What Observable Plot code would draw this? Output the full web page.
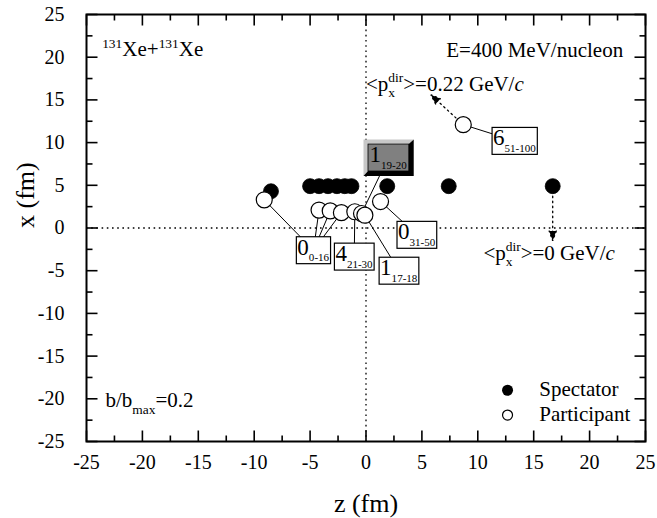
<!DOCTYPE html>
<html>
<head>
<meta charset="utf-8">
<script src="https://cdn.jsdelivr.net/npm/d3@7"></script>
<script src="https://cdn.jsdelivr.net/npm/@observablehq/plot@0.6"></script>
<style>
  html, body { margin: 0; padding: 0; background: #fff; }
  #chart svg { display: block; }
</style>
</head>
<body>
<div id="chart"></div>
<script>
// Spectator nucleons (filled) in the z–x reaction plane
const spectatorZ = [-8.5, -5.0, -4.2, -3.4, -2.6, -1.9, -1.3, 1.9, 7.4, 16.7];
const spectatorX = [4.3, 4.9, 4.9, 4.9, 4.9, 4.9, 4.9, 4.9, 4.9, 4.9];

// Participant fragments (open)
const participantId = ["a", "b", "c", "d", "e", "f", "g", "h", "i"];
const participantZ = [-9.1, -4.2, -3.2, -2.2, -1.0, -0.4, -0.1, 1.3, 8.7];
const participantX = [3.3, 2.1, 2.0, 1.8, 1.9, 1.7, 1.5, 3.1, 12.1];

// Boxed group labels: count with time window (fm/c) as subscript
const labelText = ["0_{0-16}", "4_{21-30}", "1_{17-18}", "0_{31-50}", "1_{19-20}", "6_{51-100}"];
const labelZ = [-4.7, -1.05, 2.95, 4.55, 2.0, 13.3];
const labelX = [-2.6, -3.35, -5.0, -0.8, 8.25, 10.2];
const labelRaised = [false, false, false, false, true, false];
const labelTargets = [["a", "b", "c", "d"], ["e"], ["g"], ["h"], ["f"], ["i"]];

// Directed-momentum arrows
const arrowZ1 = [8.7, 16.7];
const arrowX1 = [12.1, 4.9];
const arrowZ2 = [5.8, 16.7];
const arrowX2 = [15.6, -1.5];

// Annotations
const noteText = ["^{131}Xe+^{131}Xe", "E=400 MeV/nucleon", "<p_{x}^{dir}>=0.22 GeV/~{c}", "<p_{x}^{dir}>=0 GeV/~{c}", "b/b_{max}=0.2"];
const noteZ = [-23.6, 23.0, 0.0, 10.5, -23.3];
const noteX = [20.1, 20.0, 16.1, -3.7, -21.0];
const noteAnchor = ["start", "end", "start", "start", "start"];

// Legend
const legendText = ["Spectator", "Participant"];
const legendFilled = [true, false];
const legendZ = [12.66, 12.66];
const legendX = [-19.0, -21.9];
const legendTextZ = [15.5, 15.5];
const legendTextX = [-19.7, -22.6];

// Axis ticks
const axisMin = -25, axisMax = 25;
const majorTicks = [-25, -20, -15, -10, -5, 0, 5, 10, 15, 20, 25];
const minorTicks = [-22.5, -17.5, -12.5, -7.5, -2.5, 2.5, 7.5, 12.5, 17.5, 22.5];

const W = 657, H = 518, mL = 86, mR = 12, mT = 14, mB = 77;
const fw = W - mL - mR, fh = H - mT - mB;
const FONT = "Liberation Serif, Times New Roman, serif";

const spectators = spectatorZ.map((z, i) => ({z, x: spectatorX[i]}));
const participants = participantId.map((id, i) => ({id, z: participantZ[i], x: participantX[i]}));
const labels = labelText.map((text, i) => ({text, z: labelZ[i], x: labelX[i]}));
const links = labelTargets.flatMap((ids, i) => ids.map(id => {
  const p = participants.find(d => d.id === id);
  return {z1: labelZ[i], x1: labelX[i], z2: p.z, x2: p.x};
}));
const arrows = arrowZ1.map((z1, i) => ({z1, x1: arrowX1[i], z2: arrowZ2[i], x2: arrowX2[i]}));
const notes = noteText.map((text, i) => ({text, z: noteZ[i], x: noteX[i], anchor: noteAnchor[i]}));
const legend = legendText.map((text, i) => ({text, filled: legendFilled[i], z: legendZ[i], x: legendX[i], tz: legendTextZ[i], tx: legendTextX[i]}));

// inward ticks on all four sides of the frame (length given in pixels)
function frameTicks(vals, len) {
  const ly = len * (axisMax - axisMin) / fh;
  const lx = len * (axisMax - axisMin) / fw;
  const segs = [];
  for (const v of vals) {
    segs.push({a1: v, b1: axisMin, a2: v, b2: axisMin + ly});
    segs.push({a1: v, b1: axisMax, a2: v, b2: axisMax - ly});
    segs.push({a1: axisMin, b1: v, a2: axisMin + lx, b2: v});
    segs.push({a1: axisMax, b1: v, a2: axisMax - lx, b2: v});
  }
  return Plot.link(segs, {x1: "a1", y1: "b1", x2: "a2", y2: "b2", stroke: "black", strokeWidth: 1.6});
}

const chart = Plot.plot({
  width: W, height: H,
  marginLeft: mL, marginRight: mR, marginTop: mT, marginBottom: mB,
  style: {fontFamily: FONT, fontSize: "20px", background: "#fff", color: "black"},
  x: {domain: [axisMin, axisMax]},
  y: {domain: [axisMin, axisMax]},
  marks: [
    Plot.ruleX([0], {stroke: "black", strokeWidth: 1.3, strokeDasharray: "1.6,3.6"}),
    Plot.ruleY([0], {stroke: "black", strokeWidth: 1.3, strokeDasharray: "1.6,3.6"}),
    Plot.link(links, {x1: "z1", y1: "x1", x2: "z2", y2: "x2", stroke: "black", strokeWidth: 1}),
    Plot.arrow(arrows, {x1: "z1", y1: "x1", x2: "z2", y2: "x2", stroke: "black", fill: "black",
      strokeWidth: 1.3, strokeDasharray: "1.5,3.5", headLength: 12, headAngle: 40}),
    Plot.dot(spectators, {x: "z", y: "x", r: 7.5, fill: "black", stroke: "black", strokeWidth: 0.8}),
    Plot.dot(participants, {x: "z", y: "x", r: 8, fill: "white", stroke: "black", strokeWidth: 1.2}),
    Plot.text(labels, {x: "z", y: "x", text: "text", fontSize: 23,
      textAnchor: "middle", lineAnchor: "bottom", fill: "black"}),
    Plot.text(notes.filter(d => d.anchor === "start"), {x: "z", y: "x", text: "text", textAnchor: "start",
      fontSize: 21, lineAnchor: "bottom", fill: "black"}),
    Plot.text(notes.filter(d => d.anchor === "end"), {x: "z", y: "x", text: "text", textAnchor: "end",
      fontSize: 21, lineAnchor: "bottom", fill: "black"}),
    Plot.dot(legend.filter(d => d.filled), {x: "z", y: "x", r: 5.5, fill: "black"}),
    Plot.dot(legend.filter(d => !d.filled), {x: "z", y: "x", r: 5, fill: "white", stroke: "black", strokeWidth: 1.2}),
    Plot.text(legend, {x: "tz", y: "tx", text: "text", textAnchor: "start", lineAnchor: "bottom", fontSize: 21, fill: "black"}),
    Plot.text(["z (fm)"], {frameAnchor: "bottom", dy: 70, lineAnchor: "bottom", fontSize: 26, fill: "black"}),
    Plot.text(["x (fm)"], {frameAnchor: "left", dx: -61, rotate: -90, lineAnchor: "middle", fontSize: 26, fill: "black"}),
    frameTicks(majorTicks, 11),
    frameTicks(minorTicks, 6),
    Plot.frame({stroke: "black", strokeWidth: 2}),
    Plot.axisX({ticks: majorTicks, tickSize: 0, tickPadding: 13, tickFormat: d => `${d}`, label: null, fontSize: 20}),
    Plot.axisY({ticks: majorTicks, tickSize: 0, tickPadding: 22, tickFormat: d => `${d}`, label: null, fontSize: 20})
  ]
});

document.getElementById("chart").appendChild(chart);

const NS = "http://www.w3.org/2000/svg";

// Turn ^{..} / _{..} / ~{..} markup into super/subscript and italic tspans
function richText(el, o) {
  const src = el.textContent;
  if (!/[_^~]\{/.test(src)) return;
  const base = parseFloat(getComputedStyle(el).fontSize);
  el.textContent = "";
  const re = /([_^~])\{([^}]*)\}|([^_^~]+)/g;
  let m, shift = 0, prevSub = null;
  while ((m = re.exec(src))) {
    const t = document.createElementNS(NS, "tspan");
    let target = 0;
    if (m[3] !== undefined) {
      t.textContent = m[3];
    } else {
      t.textContent = m[2];
      if (m[1] === "_") { target = base * o.subShift; t.setAttribute("font-size", base * o.subScale); }
      else if (m[1] === "^") { target = -base * o.supShift; t.setAttribute("font-size", base * o.supScale); }
      else { t.setAttribute("font-style", "italic"); }
    }
    if (target - shift) t.setAttribute("dy", target - shift);
    shift = target;
    el.appendChild(t);
    if (m[1] === "^" && prevSub) t.setAttribute("dx", -prevSub.getComputedTextLength());
    prevSub = m[1] === "_" ? t : null;
  }
}

// Draw a frame behind a label, centred on the label's anchor point
function boxify(el, raised) {
  const bb = el.getBBox();
  const g = document.createElementNS(NS, "g");
  g.setAttribute("transform", el.getAttribute("transform") || "");
  el.parentNode.insertBefore(g, el);
  el.removeAttribute("transform");
  const padX = raised ? 1.5 : 1, padT = -2, padB = 0.5;
  const x0 = bb.x - padX, y0 = bb.y - padT, w = bb.width + 2 * padX, h = bb.height + padT + padB;
  const inner = document.createElementNS(NS, "g");
  inner.setAttribute("transform", `translate(${-(x0 + w / 2)},${-(y0 + h / 2)})`);
  g.appendChild(inner);
  if (raised) {
    const L = 4.5, D = 5;
    const poly = (pts, fill) => {
      const p = document.createElementNS(NS, "polygon");
      p.setAttribute("points", pts.map(q => q.join(",")).join(" "));
      p.setAttribute("fill", fill);
      p.setAttribute("stroke", "none");
      inner.appendChild(p);
    };
    const X0 = x0 - L, Y0 = y0 - L, X1 = x0 + w + D, Y1 = y0 + h + D;
    poly([[X0, Y0], [X1, Y0], [x0 + w, y0], [x0, y0], [x0, y0 + h], [X0, Y1]], "#c8c8c8");
    poly([[X1, Y0], [X1, Y1], [X0, Y1], [x0, y0 + h], [x0 + w, y0 + h], [x0 + w, y0]], "#000");
  }
  const r = document.createElementNS(NS, "rect");
  r.setAttribute("x", x0); r.setAttribute("y", y0);
  r.setAttribute("width", w); r.setAttribute("height", h);
  r.setAttribute("fill", raised ? "#808080" : "white");
  r.setAttribute("stroke", "black");
  r.setAttribute("stroke-width", raised ? 0.8 : 1.2);
  inner.appendChild(r);
  inner.appendChild(el);
}

const noteOpts = {subScale: 0.64, subShift: 0.3, supScale: 0.64, supShift: 0.42};
const labelOpts = {subScale: 0.48, subShift: 0.28, supScale: 0.6, supShift: 0.4};
Array.from(chart.querySelectorAll("text")).forEach(el => {
  const k = labelText.indexOf(el.textContent);
  if (k >= 0) {
    richText(el, labelOpts);
    boxify(el, labelRaised[k]);
  } else {
    richText(el, noteOpts);
  }
});

// keep the frame ticks on top of every other layer
Array.from(chart.querySelectorAll('g[aria-label="link"]'))
  .filter(g => g.children.length >= 4 * minorTicks.length)
  .forEach(g => { g.removeAttribute("clip-path"); chart.appendChild(g); });
</script>
</body>
</html>
